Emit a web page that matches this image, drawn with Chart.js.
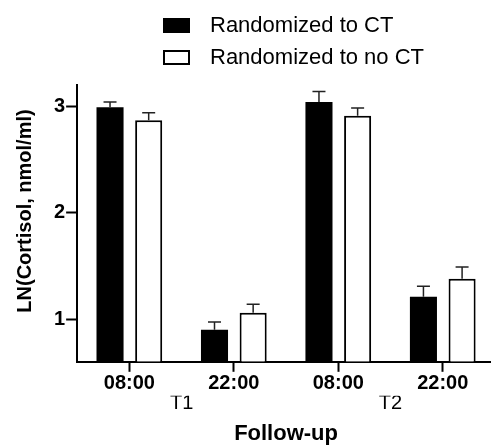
<!DOCTYPE html>
<html>
<head>
<meta charset="utf-8">
<script src="https://cdn.jsdelivr.net/npm/chart.js@4.4.1/dist/chart.umd.min.js"></script>
<style>
  html, body { margin: 0; padding: 0; background: #fff; overflow: hidden; }
  #wrap { width: 496px; height: 446px; }
</style>
</head>
<body>
<div id="wrap"><canvas id="barChart" width="496" height="446"></canvas></div>
<script>
// data
const categories = ['08:00', '22:00', '08:00', '22:00'];
const periods = ['T1', 'T2'];
const ctMeans = [2.99, 0.90, 3.04, 1.21];
const ctErrors = [0.05, 0.075, 0.10, 0.10];
const noCtMeans = [2.87, 1.06, 2.91, 1.38];
const noCtErrors = [0.07, 0.08, 0.075, 0.11];
const yTicks = [1, 2, 3];
const yMin = 0.6;
const yMax = 3.2;

const FONT = '"Liberation Sans", Arial, Helvetica, sans-serif';
Chart.defaults.font.family = FONT;
Chart.defaults.color = '#000';

// upward error bars with caps
const errorBars = {
    id: 'errorBars',
    afterDatasetsDraw(chart) {
        const ctx = chart.ctx;
        const yScale = chart.scales.y;
        ctx.save();
        ctx.strokeStyle = '#222';
        ctx.lineWidth = 1.5;
        chart.data.datasets.forEach((ds, i) => {
            const meta = chart.getDatasetMeta(i);
            meta.data.forEach((bar, j) => {
                const yTop = yScale.getPixelForValue(ds.data[j] + ds.errors[j]);
                ctx.beginPath();
                ctx.moveTo(bar.x, bar.y);
                ctx.lineTo(bar.x, yTop);
                ctx.moveTo(bar.x - 6.5, yTop);
                ctx.lineTo(bar.x + 6.5, yTop);
                ctx.stroke();
            });
        });
        ctx.restore();
    }
};

// stacked legend at the top, plus the rotated y title
const extras = {
    id: 'extras',
    afterDraw(chart) {
        const ctx = chart.ctx;
        ctx.save();
        ctx.font = '22px ' + FONT;
        ctx.textBaseline = 'middle';
        chart.data.datasets.forEach((ds, i) => {
            const y = 18 + i * 32;
            if (ds.borderWidth) {
                ctx.fillStyle = '#fff';
                ctx.fillRect(163, y, 27, 15);
                ctx.lineWidth = 2;
                ctx.strokeStyle = ds.borderColor;
                ctx.strokeRect(164, y + 1, 25, 13);
            } else {
                ctx.fillStyle = ds.backgroundColor;
                ctx.fillRect(163, y, 27, 15);
            }
            ctx.fillStyle = '#000';
            ctx.fillText(ds.label, 210, y + 8);
        });

        ctx.translate(25, 211);
        ctx.rotate(-Math.PI / 2);
        ctx.font = 'bold 20px ' + FONT;
        ctx.textAlign = 'center';
        ctx.fillText('LN(Cortisol, nmol/ml)', 0, 0);
        ctx.restore();
    }
};

const data = {
    labels: categories,
    datasets: [{
        label: 'Randomized to CT',
        data: ctMeans,
        errors: ctErrors,
        backgroundColor: '#000',
        borderWidth: 0,
        base: yMin,
        xAxisID: 'x'
    }, {
        label: 'Randomized to no CT',
        data: noCtMeans,
        errors: noCtErrors,
        backgroundColor: '#fff',
        borderColor: '#000',
        borderWidth: 2,
        base: yMin,
        xAxisID: 'x'
    }]
};

const options = {
    responsive: false,
    animation: false,
    devicePixelRatio: 1,
    layout: { padding: { top: 85, left: 53, right: 1, bottom: 0 } },
    categoryPercentage: 0.74,
    barPercentage: 0.70,
    plugins: {
        legend: { display: false },
        tooltip: { enabled: false }
    },
    scales: {
        x: {
            type: 'category',
            position: 'bottom',
            weight: 0,
            z: 1,
            grid: { offset: false, drawOnChartArea: false, tickLength: 10, tickWidth: 2, tickColor: '#000' },
            border: { color: '#000', width: 2 },
            ticks: { font: { size: 20, weight: 'bold', lineHeight: 0.9 }, padding: 3, color: '#000' }
        },
        x2: {
            type: 'category',
            labels: periods,
            position: 'bottom',
            offset: true,
            weight: 1,
            grid: { display: false, drawTicks: false },
            border: { display: false },
            ticks: { font: { size: 20, lineHeight: 0.8 }, padding: 0, color: '#000' },
            title: {
                display: true,
                text: 'Follow-up',
                font: { size: 22, weight: 'bold', lineHeight: 1.1 },
                padding: { top: 10, bottom: 0 },
                color: '#000'
            }
        },
        y: {
            min: yMin,
            max: yMax,
            z: 1,
            afterBuildTicks: (scale) => { scale.ticks = yTicks.map(v => ({ value: v })); },
            grid: { drawOnChartArea: false, tickLength: 11, tickWidth: 2, tickColor: '#000' },
            border: { color: '#000', width: 2 },
            ticks: { font: { size: 20, weight: 'bold' }, padding: 1, color: '#000' }
        }
    }
};

const ctx = document.getElementById('barChart').getContext('2d');
new Chart(ctx, {
    type: 'bar',
    data: data,
    options: options,
    plugins: [errorBars, extras]
});
</script>
</body>
</html>
